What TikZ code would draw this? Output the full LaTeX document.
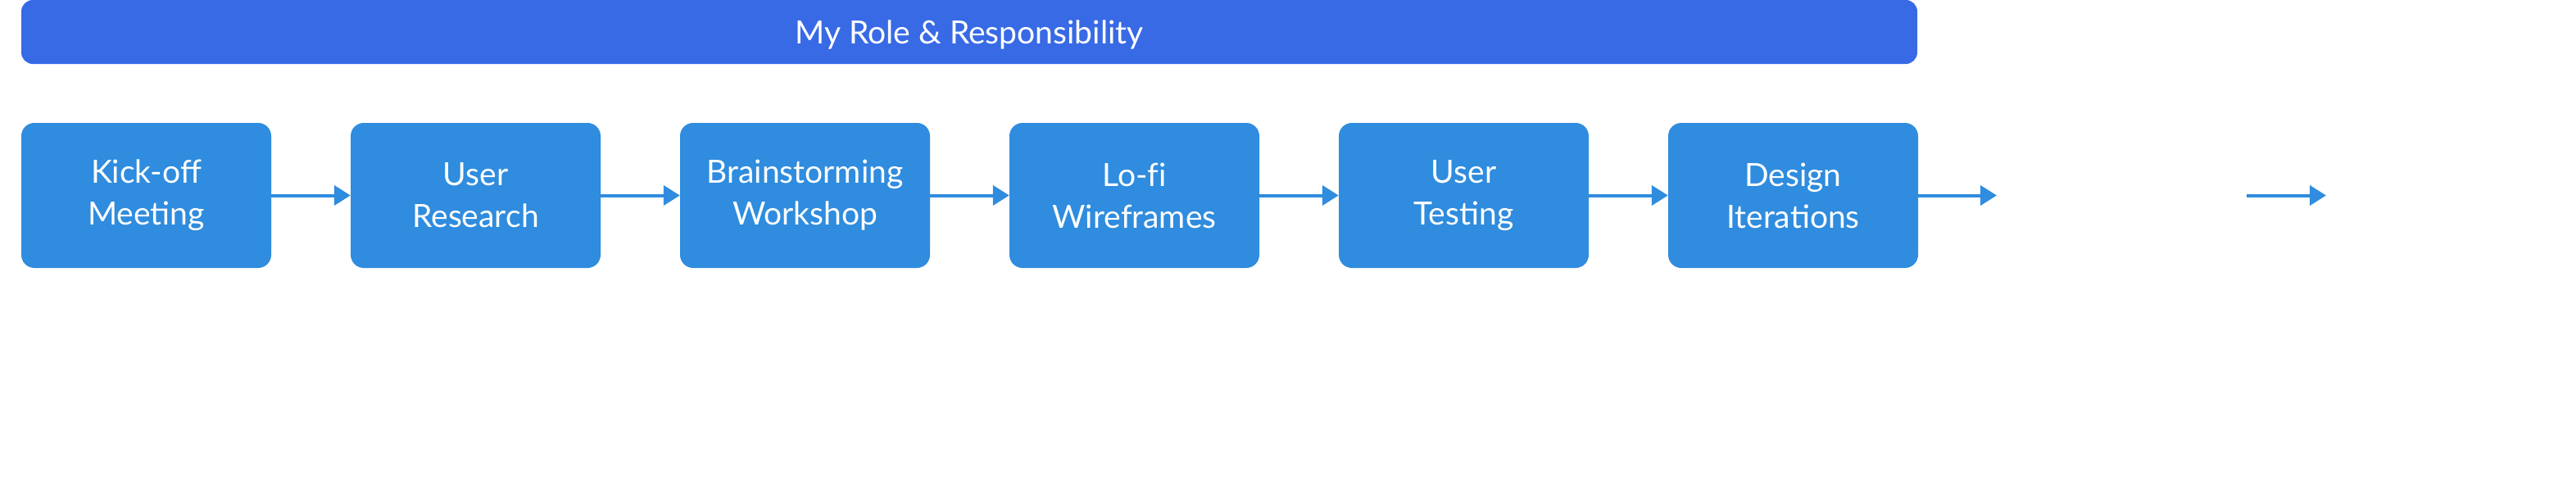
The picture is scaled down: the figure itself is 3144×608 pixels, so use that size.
\documentclass[tikz,border=0pt]{standalone}
\usepackage{fontspec}
\setmainfont{Lato}
\usetikzlibrary{arrows.meta}
\definecolor{bannerblue}{RGB}{56,106,230}
\definecolor{boxblue}{RGB}{47,140,222}
\tikzset{
  stepbox/.style={fill=boxblue, draw=none, rounded corners=16pt, minimum width=305pt, minimum height=177pt, inner sep=0pt, text=white, align=center, font=\fontsize{39pt}{51pt}\selectfont},
  banner/.style={fill=bannerblue, draw=none, rounded corners=14pt, minimum width=2314pt, minimum height=78pt, inner sep=0pt, text height=29pt, text depth=0pt, text=white, font=\fontsize{39pt}{44pt}\selectfont},
  flow/.style={draw=boxblue, line width=4pt, -{Triangle[length=20pt,width=24pt]}}
}
\begin{document}
\begin{tikzpicture}[x=1pt,y=1pt]
\useasboundingbox (0,0) rectangle (3144,-608);
\node[banner] (title) at (1183,-39) {My Role \& Responsibility};
\node[stepbox] (b1) at (178.5,-238.5) {Kick-off\\Meeting};
\node[stepbox] (b2) at (580.5,-238.5) {User\\Research};
\node[stepbox] (b3) at (982.5,-238.5) {Brainstorming\\Workshop};
\node[stepbox] (b4) at (1384.5,-238.5) {Lo-f\kern0pt i\\Wireframes};
\node[stepbox] (b5) at (1786.5,-238.5) {User\\Testing};
\node[stepbox] (b6) at (2188.5,-238.5) {Design\\Iterations};
\coordinate (e7) at (2437,-238.5);
\coordinate (s8) at (2742,-238.5);
\coordinate (e8) at (2839,-238.5);
\draw[flow] (b1) -- (b2);
\draw[flow] (b2) -- (b3);
\draw[flow] (b3) -- (b4);
\draw[flow] (b4) -- (b5);
\draw[flow] (b5) -- (b6);
\draw[flow] (b6.east) -- (e7);
\draw[flow] (s8) -- (e8);
\end{tikzpicture}
\end{document}
